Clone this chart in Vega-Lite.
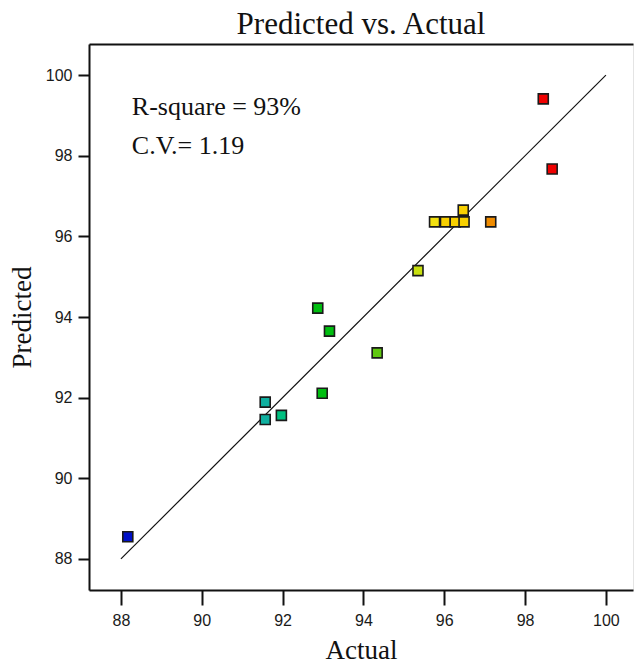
{
  "$schema": "https://vega.github.io/schema/vega-lite/v6.json",
  "autosize": "none",
  "width": 544,
  "height": 546,
  "padding": {"left": 89, "top": 44, "right": 2, "bottom": 75},
  "background": "white",
  "view": {"stroke": "#e4e4e4", "strokeWidth": 1},
  "title": {
    "text": "Predicted vs. Actual",
    "font": "Liberation Serif",
    "fontSize": 31,
    "fontWeight": "normal",
    "color": "#111",
    "anchor": "middle",
    "offset": 3
  },
  "datasets": {
    "points": [
      {"Actual": 98.45, "Predicted": 99.41},
      {"Actual": 98.67, "Predicted": 97.67},
      {"Actual": 97.15, "Predicted": 96.36},
      {"Actual": 95.76, "Predicted": 96.36},
      {"Actual": 96.03, "Predicted": 96.36},
      {"Actual": 96.27, "Predicted": 96.36},
      {"Actual": 96.49, "Predicted": 96.36},
      {"Actual": 96.47, "Predicted": 96.65},
      {"Actual": 95.35, "Predicted": 95.15},
      {"Actual": 92.87, "Predicted": 94.22},
      {"Actual": 93.16, "Predicted": 93.65},
      {"Actual": 94.34, "Predicted": 93.11},
      {"Actual": 92.98, "Predicted": 92.11},
      {"Actual": 91.57, "Predicted": 91.89},
      {"Actual": 91.57, "Predicted": 91.46},
      {"Actual": 91.97, "Predicted": 91.56},
      {"Actual": 88.17, "Predicted": 88.55}
    ],
    "diagonal": [
      {"Actual": 88, "Predicted": 88},
      {"Actual": 100, "Predicted": 100}
    ],
    "notes": [
      {"Actual": 88.27, "Predicted": 99.0, "label": "R-square = 93%"},
      {"Actual": 88.27, "Predicted": 98.03, "label": "C.V.= 1.19"}
    ]
  },
  "resolve": {"axis": {"x": "independent"}},
  "layer": [
    {
      "data": {"name": "diagonal"},
      "mark": {"type": "line", "color": "#111", "strokeWidth": 1.2},
      "encoding": {
        "x": {
          "field": "Actual", "type": "quantitative",
          "scale": {"domain": [87.21, 100.67], "nice": false, "zero": false},
          "axis": {
            "title": "Actual",
            "values": [88, 90, 92, 94, 96, 98, 100],
            "grid": false,
            "domainColor": "#111", "domainWidth": 2,
            "tickColor": "#111", "tickWidth": 2, "tickSize": 15,
            "labelFont": "Liberation Sans", "labelFontSize": 16, "labelColor": "#1a1a1a",
            "labelPadding": 7,
            "titleFont": "Liberation Serif", "titleFontSize": 27, "titleFontWeight": "normal",
            "titleColor": "#111", "titlePadding": 9
          }
        },
        "y": {
          "field": "Predicted", "type": "quantitative",
          "scale": {"domain": [87.23, 100.77], "nice": false, "zero": false},
          "axis": {
            "title": "Predicted",
            "values": [88, 90, 92, 94, 96, 98, 100],
            "grid": false,
            "domainColor": "#111", "domainWidth": 2,
            "tickColor": "#111", "tickWidth": 2, "tickSize": 11,
            "labelFont": "Liberation Sans", "labelFontSize": 16, "labelColor": "#1a1a1a",
            "labelPadding": 6,
            "titleFont": "Liberation Serif", "titleFontSize": 27, "titleFontWeight": "normal",
            "titleColor": "#111", "titlePadding": 9
          }
        }
      }
    },
    {
      "data": {"name": "points"},
      "mark": {"type": "point", "shape": "square", "filled": true, "size": 100, "stroke": "#1a1a1a", "strokeWidth": 1.6, "opacity": 1},
      "encoding": {
        "x": {
          "field": "Actual", "type": "quantitative",
          "axis": {"orient": "top", "labels": false, "ticks": false, "title": null, "grid": false, "domainColor": "#111", "domainWidth": 2}
        },
        "y": {"field": "Predicted", "type": "quantitative"},
        "fill": {
          "field": "Actual", "type": "quantitative",
          "scale": {
            "type": "threshold",
            "domain": [90, 91.8, 92.5, 94, 95, 95.6, 95.9, 97, 98],
            "range": ["#0010c8", "#10b0a0", "#00c080", "#00be10", "#60c810", "#c8e010", "#f2e010", "#f8d000", "#f08c00", "#f00000"]
          },
          "legend": null
        }
      }
    },
    {
      "data": {"name": "notes"},
      "mark": {"type": "text", "align": "left", "baseline": "alphabetic", "font": "Liberation Serif", "fontSize": 26, "color": "#111"},
      "encoding": {
        "x": {"field": "Actual", "type": "quantitative", "axis": null},
        "y": {"field": "Predicted", "type": "quantitative"},
        "text": {"field": "label"}
      }
    }
  ]
}
